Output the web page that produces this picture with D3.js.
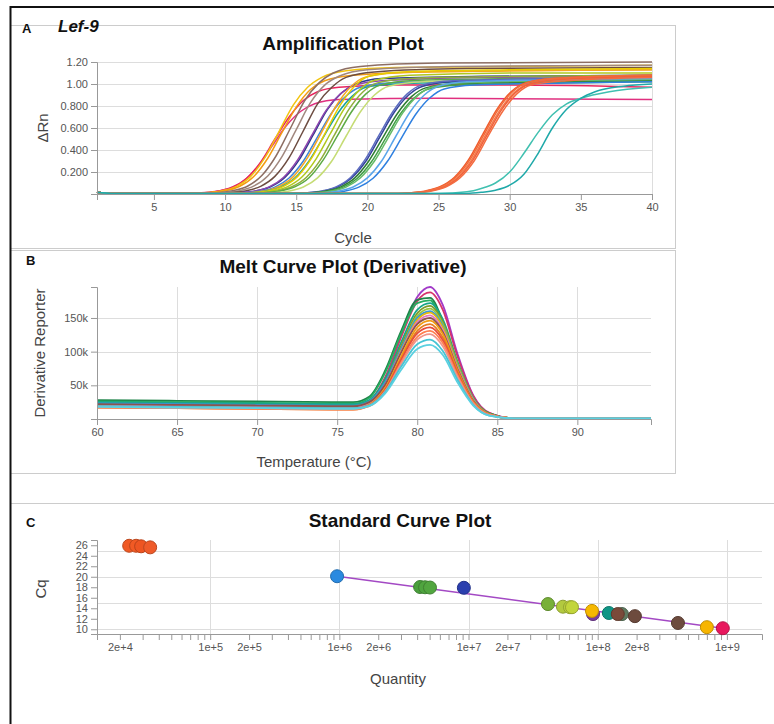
<!DOCTYPE html>
<html>
<head>
<meta charset="utf-8">
<style>
  body { margin:0; background:#fff; }
  svg { display:block; font-family: Arial, "Liberation Sans", Helvetica, sans-serif; }
  .tick text { font-size:11px; fill:#555; }
  .domain, .tick line { stroke:#999; }
  .grid line { stroke:#ddd; }
  .title { font-size:19px; font-weight:bold; fill:#111; text-anchor:middle; }
  .axis-label { font-size:15px; fill:#444; text-anchor:middle; dominant-baseline:central; }
  .letter { font-size:13px; font-weight:bold; fill:#111; }
</style>
<script src="https://d3js.org/d3.v7.min.js"></script>
</head>
<body>
<script>
// ---- A: amplification curves, [cycle, dRn] points
const ampColors = [
  '#e0307f','#e8265e','#f2c40f','#f39c12','#8d6e63','#a1887f','#6d4c41',
  '#2c3a8c','#8e44ad','#3f86d9','#f5a623','#17a2a0','#e6cc00','#b0c81e','#8fae3c','#5daa45','#c5dc74',
  '#34449a','#5c6bc0','#2e7d32','#43a047','#66bb6a','#2f80e0','#5aa5ea',
  '#ef5b2b','#f26b3a','#f47b4b','#f0603a','#f36c40',
  '#40c0b0','#1fa9a9'
]
const ampCurves = [
  [[1,.015],[2,.005],[7.3,.005],[8.3,.01],[9.3,.023],[10.3,.053],[11.3,.12],[12.3,.25],[13.3,.435],[14.3,.62],[15.3,.75],[16.3,.82],[18,.86],[25,.87],[40,.86]],
  [[1,.015],[2,.005],[7.5,.005],[8.5,.011],[9.5,.026],[10.5,.06],[11.5,.14],[12.5,.29],[13.5,.5],[14.5,.7],[15.5,.85],[16.5,.93],[18,.97],[22,.99],[30,.99],[40,.97]],
  [[1,.015],[2,.005],[7.8,.005],[8.8,.013],[9.8,.03],[10.8,.07],[11.8,.16],[12.8,.33],[13.8,.57],[14.8,.81],[15.8,.97],[16.8,1.06],[18.5,1.12],[22,1.15],[40,1.17]],
  [[1,.015],[2,.005],[8,.005],[9,.012],[10,.029],[11,.068],[12,.157],[13,.325],[14,.56],[15,.79],[16,.95],[17,1.03],[19,1.08],[24,1.11],[40,1.13]],
  [[1,.015],[2,.005],[8.6,.005],[9.6,.013],[10.6,.031],[11.6,.073],[12.6,.17],[13.6,.35],[14.6,.6],[15.6,.85],[16.6,1.01],[17.6,1.1],[19.5,1.16],[25,1.19],[40,1.2]],
  [[1,.015],[2,.005],[9,.005],[10,.013],[11,.03],[12,.071],[13,.164],[14,.34],[15,.585],[16,.83],[17,.99],[18,1.07],[20,1.13],[26,1.16],[40,1.17]],
  [[1,.015],[2,.005],[9.5,.005],[10.5,.013],[11.5,.03],[12.5,.07],[13.5,.16],[14.5,.33],[15.5,.575],[16.5,.82],[17.5,.97],[18.5,1.06],[20.5,1.11],[27,1.14],[40,1.15]],
  [[1,.015],[2,.005],[10.2,.005],[11.2,.012],[12.2,.028],[13.2,.066],[14.2,.15],[15.2,.31],[16.2,.54],[17.2,.77],[18.2,.92],[19.2,1.0],[21,1.05],[28,1.07],[40,1.08]],
  [[1,.015],[2,.005],[10.1,.005],[11.1,.012],[12.1,.028],[13.1,.065],[14.1,.15],[15.1,.31],[16.1,.535],[17.1,.76],[18.1,.91],[19.1,.99],[21,1.03],[28,1.06],[40,1.07]],
  [[1,.015],[2,.005],[10.5,.005],[11.5,.011],[12.5,.027],[13.5,.063],[14.5,.146],[15.5,.3],[16.5,.52],[17.5,.74],[18.5,.89],[19.5,.97],[21.5,1.01],[28,1.03],[40,1.04]],
  [[1,.015],[2,.005],[10.8,.005],[11.8,.012],[12.8,.029],[13.8,.069],[14.8,.158],[15.8,.33],[16.8,.565],[17.8,.8],[18.8,.97],[19.8,1.06],[22,1.1],[30,1.12],[40,1.13]],
  [[1,.015],[2,.005],[10.9,.005],[11.9,.011],[12.9,.027],[13.9,.063],[14.9,.144],[15.9,.3],[16.9,.515],[17.9,.73],[18.9,.885],[19.9,.97],[22,1.0],[30,1.02],[40,1.03]],
  [[1,.015],[2,.005],[11.1,.005],[12.1,.013],[13.1,.03],[14.1,.07],[15.1,.16],[16.1,.33],[17.1,.57],[18.1,.81],[19.1,.98],[20.1,1.07],[22.5,1.11],[30,1.13],[40,1.14]],
  [[1,.015],[2,.005],[11.4,.005],[12.4,.012],[13.4,.029],[14.4,.067],[15.4,.154],[16.4,.32],[17.4,.55],[18.4,.78],[19.4,.94],[20.4,1.03],[23,1.08],[31,1.1],[40,1.1]],
  [[1,.015],[2,.005],[11.7,.005],[12.7,.012],[13.7,.028],[14.7,.066],[15.7,.15],[16.7,.31],[17.7,.54],[18.7,.77],[19.7,.93],[20.7,1.01],[23,1.05],[31,1.07],[40,1.08]],
  [[1,.015],[2,.005],[11.9,.005],[12.9,.012],[13.9,.028],[14.9,.065],[15.9,.148],[16.9,.31],[17.9,.53],[18.9,.75],[19.9,.91],[20.9,.99],[23,1.03],[31,1.05],[40,1.06]],
  [[1,.015],[2,.005],[12.5,.005],[13.5,.012],[14.5,.027],[15.5,.064],[16.5,.147],[17.5,.3],[18.5,.525],[19.5,.745],[20.5,.9],[21.5,.98],[24,1.02],[32,1.04],[40,1.05]],
  [[1,.015],[2,.005],[14.9,.005],[15.9,.012],[16.9,.027],[17.9,.064],[18.9,.147],[19.9,.3],[20.9,.525],[21.9,.745],[22.9,.9],[23.9,.98],[26,1.02],[33,1.04],[40,1.05]],
  [[1,.015],[2,.005],[14.8,.005],[15.8,.012],[16.8,.028],[17.8,.065],[18.8,.148],[19.8,.305],[20.8,.53],[21.8,.75],[22.8,.91],[23.8,.99],[26,1.03],[33,1.05],[40,1.06]],
  [[1,.015],[2,.005],[15.1,.005],[16.1,.011],[17.1,.027],[18.1,.063],[19.1,.144],[20.1,.3],[21.1,.515],[22.1,.73],[23.1,.885],[24.1,.965],[26,1.0],[33,1.02],[40,1.03]],
  [[1,.015],[2,.005],[15.3,.005],[16.3,.011],[17.3,.026],[18.3,.062],[19.3,.143],[20.3,.295],[21.3,.51],[22.3,.725],[23.3,.875],[24.3,.955],[26.5,.99],[33,1.01],[40,1.02]],
  [[1,.015],[2,.005],[15.5,.005],[16.5,.011],[17.5,.027],[18.5,.063],[19.5,.146],[20.5,.3],[21.5,.52],[22.5,.74],[23.5,.89],[24.5,.97],[26.5,1.01],[33,1.03],[40,1.04]],
  [[1,.015],[2,.005],[16.4,.005],[17.4,.011],[18.4,.026],[19.4,.062],[20.4,.143],[21.4,.295],[22.4,.51],[23.4,.725],[24.4,.875],[25.4,.955],[27.5,.99],[34,1.01],[40,1.02]],
  [[1,.015],[2,.005],[16,.005],[17,.012],[18,.027],[19,.064],[20,.147],[21,.3],[22,.525],[23,.745],[24,.9],[25,.98],[27,1.02],[34,1.04],[40,1.05]],
  [[1,.015],[2,.005],[22.1,.005],[23.1,.012],[24.1,.028],[25.1,.066],[26.1,.15],[27.1,.31],[28.1,.54],[29.1,.77],[30.1,.93],[31.1,1.01],[33,1.05],[40,1.08]],
  [[1,.015],[2,.005],[22.2,.005],[23.2,.012],[24.2,.028],[25.2,.066],[26.2,.15],[27.2,.31],[28.2,.54],[29.2,.77],[30.2,.93],[31.2,1.01],[33,1.05],[40,1.08]],
  [[1,.015],[2,.005],[22.3,.005],[23.3,.012],[24.3,.028],[25.3,.065],[26.3,.148],[27.3,.305],[28.3,.535],[29.3,.76],[30.3,.92],[31.3,1.0],[33.5,1.04],[40,1.07]],
  [[1,.015],[2,.005],[22.4,.005],[23.4,.012],[24.4,.028],[25.4,.065],[26.4,.148],[27.4,.305],[28.4,.535],[29.4,.76],[30.4,.92],[31.4,1.0],[33.5,1.04],[40,1.07]],
  [[1,.015],[2,.005],[22.5,.005],[23.5,.012],[24.5,.027],[25.5,.064],[26.5,.146],[27.5,.3],[28.5,.53],[29.5,.75],[30.5,.91],[31.5,.99],[34,1.03],[40,1.06]],
  [[1,.015],[2,.005],[25,.005],[27,.02],[28,.05],[29,.1],[30,.2],[31,.37],[32,.56],[33,.72],[34,.82],[35,.87],[37,.93],[40,.97]],
  [[1,.015],[2,.005],[27,.005],[28,.015],[29,.035],[30,.08],[31,.18],[32,.37],[33,.6],[34,.77],[35,.87],[36,.93],[38,.98],[40,1.0]]
]
const ampYTicks = [0.2, 0.4, 0.6, 0.8, 1.0, 1.2]
const ampXTicks = [5, 10, 15, 20, 25, 30, 35, 40]
const ampXGrid = [10, 20, 30, 40]

// ---- B: melt curves (derivative reporter, in thousands) at these temperatures
const meltTemps = [60, 65, 70, 75, 76, 77, 78, 79, 80, 80.8, 81.6, 82.5, 83.5, 84.5, 86, 94.6]
const meltColors = [
  '#a23ac8','#d6336c','#1e8449','#27ae60','#17a589','#7d9b2a','#9bc53d','#3498db','#e5b80b',
  '#e377c2','#8c564b','#f39c12','#e67e22','#e74c3c','#ff7f50','#f1948a','#45c4d4','#5bd0e0'
]
const meltCurves = [
  [21,20,19,18,18,24,60,124,181,196,169,98,35,9,1,1],
  [24,23,22,21,21,27,62,122,175,188,162,94,34,9,1,1],
  [28,27,26,25,25,33,72,131,177,180,145,82,30,8,1,1],
  [26,25,24,23,23,31,69,127,172,176,141,80,28,8,1,1],
  [25,24,23,22,22,28,59,114,162,172,148,86,31,8,1,1],
  [22,21,20,19,19,25,55,109,157,168,144,84,30,8,1,1],
  [20,19,18,17,17,23,52,104,153,164,141,82,30,7,1,1],
  [23,22,21,20,20,26,55,105,150,160,138,80,29,7,1,1],
  [19,18,17,16,16,22,50,101,147,158,136,79,28,7,1,1],
  [21,20,19,18,18,24,51,100,144,154,132,77,28,7,1,1],
  [22,21,20,19,19,25,51,99,141,150,129,75,27,7,1,1],
  [18,17,16,15,15,21,46,93,136,146,126,73,26,7,1,1],
  [17,16,15,14,14,20,44,89,131,141,121,71,25,6,1,1],
  [18,17,16,15,15,20,43,88,127,136,117,68,24,6,1,1],
  [17,16,15,14,14,19,41,84,122,131,113,66,24,6,1,1],
  [18,17,16,15,15,20,41,82,118,126,108,63,23,6,1,1],
  [19,18,17,16,16,20,40,78,111,118,101,59,21,5,1,1],
  [18,17,16,15,15,19,38,73,104,110,95,55,20,5,1,1]
]
const meltYTicks = [50, 100, 150]
const meltXTicks = [60, 65, 70, 75, 80, 85, 90]

// ---- C: standard curve points
const stdQuantity = [2.36e4, 2.67e4, 2.92e4, 3.43e4, 9.6e5, 4.22e6, 4.61e6, 5.03e6, 9.2e6, 4.12e7, 5.38e7, 6.1e7, 6.32e7,
                     9.2e7, 9.03e7, 1.22e8, 1.54e8, 1.43e8, 1.94e8, 4.18e8, 7.0e8, 9.3e8]
const stdCq = [25.9, 25.9, 25.8, 25.6, 20.1, 18.05, 18.0, 17.95, 17.9, 14.8, 14.3, 14.2, 14.2,
               12.9, 13.5, 13.1, 12.9, 12.9, 12.5, 11.2, 10.4, 10.2]
const stdColors = ['#f05a24','#f15a24','#ee5522','#ef5b2a','#2b8ae0','#4a9f3c','#4fa43f','#52a640','#2b3fae',
                   '#79b03a','#b3c93f','#bdd23f','#c2d53c','#7a3d9e','#f6b800','#0f9686','#5f7a60','#7a4a3a',
                   '#6d4b3e','#6d4b3e','#f7b500','#e8175d']
const fitQuantity = [9.6e5, 9.3e8]
const fitCq = [20.1, 10.2]
const stdYTicks = [10, 12, 14, 16, 18, 20, 22, 24, 26]
const stdYGrid = [10, 15, 20, 25]
const stdXGrid = [1e5, 1e6, 1e7, 1e8, 1e9]
const stdXLabels = [2e4, 1e5, 2e5, 1e6, 2e6, 1e7, 2e7, 1e8, 2e8, 1e9]

const svg = d3.select('body').append('svg').attr('width', 774).attr('height', 724)

// frames
svg.append('rect').attr('x', 10.5).attr('y', 25.5).attr('width', 665).attr('height', 223)
  .attr('fill', 'none').attr('stroke', '#ccc')
svg.append('rect').attr('x', 10.5).attr('y', 250.5).attr('width', 665).attr('height', 223)
  .attr('fill', 'none').attr('stroke', '#ccc')
svg.append('line').attr('x1', 10).attr('x2', 774).attr('y1', 503.5).attr('y2', 503.5).attr('stroke', '#ccc')
svg.append('path').attr('d', 'M774,7H10.5V724').attr('fill', 'none').attr('stroke', '#111').attr('stroke-width', 2)

function grid(x, y, xTicks, yTicks){
  const g = svg.append('g').classed('grid', true)
  g.selectAll('line.h').data(yTicks).join('line').attr('class', 'h')
    .attr('x1', x.range()[0]).attr('x2', x.range()[1])
    .attr('y1', d => Math.round(y(d)) + 0.5).attr('y2', d => Math.round(y(d)) + 0.5)
  g.selectAll('line.v').data(xTicks).join('line').attr('class', 'v')
    .attr('x1', d => Math.round(x(d)) + 0.5).attr('x2', d => Math.round(x(d)) + 0.5)
    .attr('y1', y.range()[0]).attr('y2', y.range()[1])
}

function axes(x, y, xAxis, yAxis){
  svg.append('g').attr('transform', `translate(0,${y.range()[0]})`).call(xAxis)
  svg.append('g').attr('transform', `translate(${x.range()[0]},0)`).call(yAxis)
}

function label(txt, cx, cy, rotate){
  svg.append('text').attr('class', 'axis-label')
    .attr('transform', `translate(${cx},${cy})` + (rotate ? ' rotate(-90)' : ''))
    .text(txt)
}

// ---------- A
{
  const x = d3.scaleLinear([1, 40], [97, 652])
  const y = d3.scaleLinear([0, 1.2], [194, 62])
  grid(x, y, ampXGrid, ampYTicks)
  const line = d3.line().x(d => x(d[0])).y(d => y(d[1])).curve(d3.curveMonotoneX)
  svg.append('g').selectAll('path').data(ampCurves).join('path')
    .attr('d', line).attr('fill', 'none').attr('stroke-width', 1.5)
    .attr('stroke', (d, i) => ampColors[i])
  axes(x, y,
    d3.axisBottom(x).tickValues(ampXTicks),
    d3.axisLeft(y).tickValues(ampYTicks).tickFormat(d3.format('.3r')))
  svg.append('text').attr('class', 'letter').attr('x', 22).attr('y', 33).text('A')
  svg.append('text').attr('x', 58).attr('y', 32).attr('font-size', 17).attr('font-weight', 'bold')
    .attr('font-style', 'italic').attr('fill', '#111').text('Lef-9')
  svg.append('text').attr('class', 'title').attr('x', 343).attr('y', 50).text('Amplification Plot')
  label('ΔRn', 42, 128, true)
  label('Cycle', 353, 237)
}

// ---------- B
{
  const x = d3.scaleLinear([60, 94.6], [97, 651])
  const y = d3.scaleLinear([0, 196], [419, 287])
  grid(x, y, meltXTicks.slice(1), meltYTicks)
  const line = d3.line().x((d, i) => x(meltTemps[i])).y(d => y(d)).curve(d3.curveMonotoneX)
  svg.append('g').selectAll('path').data(meltCurves).join('path')
    .attr('d', line).attr('fill', 'none').attr('stroke-width', 1.8)
    .attr('stroke', (d, i) => meltColors[i])
  axes(x, y,
    d3.axisBottom(x).tickValues(meltXTicks),
    d3.axisLeft(y).tickValues(meltYTicks).tickFormat(d => d + 'k'))
  svg.append('text').attr('class', 'letter').attr('x', 26).attr('y', 265).text('B')
  svg.append('text').attr('class', 'title').attr('x', 343).attr('y', 273).text('Melt Curve Plot (Derivative)')
  label('Derivative Reporter', 39, 353, true)
  label('Temperature (°C)', 314, 461)
}

// ---------- C
{
  const x = d3.scaleLog([1.33e4, 1.87e9], [97, 762])
  const y = d3.scaleLinear([9.1, 27], [634, 540])
  grid(x, y, stdXGrid, stdYGrid)
  const isLabelled = d => stdXLabels.some(v => Math.abs(v - d) / v < 1e-6)
  axes(x, y,
    d3.axisBottom(x).tickValues(x.ticks()).tickFormat(d => isLabelled(d) ? d3.format('.0e')(d) : ''),
    d3.axisLeft(y).tickValues(stdYTicks))
  svg.append('path')
    .attr('d', d3.line().x(d => x(d)).y((d, i) => y(fitCq[i]))(fitQuantity))
    .attr('fill', 'none').attr('stroke', '#a349c4').attr('stroke-width', 1.5)
  svg.append('g').selectAll('circle').data(stdQuantity).join('circle')
    .attr('cx', d => x(d)).attr('cy', (d, i) => y(stdCq[i])).attr('r', 6.5)
    .attr('fill', (d, i) => stdColors[i])
    .attr('stroke', (d, i) => d3.color(stdColors[i]).darker(0.7)).attr('stroke-width', 1)
  svg.append('text').attr('class', 'letter').attr('x', 26).attr('y', 527).text('C')
  svg.append('text').attr('class', 'title').attr('x', 400).attr('y', 527).text('Standard Curve Plot')
  label('Cq', 40, 589, true)
  label('Quantity', 398, 678)
}
</script>
</body>
</html>
